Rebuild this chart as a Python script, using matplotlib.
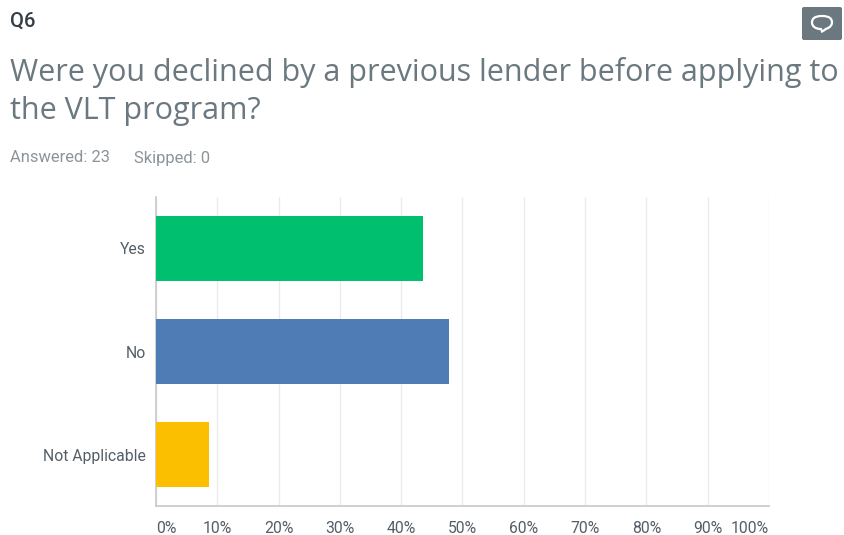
import matplotlib
matplotlib.use("Agg")
import matplotlib.pyplot as plt
from matplotlib.patches import FancyBboxPatch, PathPatch
from matplotlib.path import Path

question_id = "Q6"
title_lines = ["Were you declined by a previous lender before applying to", "the VLT program?"]
answered = "Answered: 23"
skipped = "Skipped: 0"
categories = ["Yes", "No", "Not Applicable"]
values = [43.48, 47.83, 8.70]
colors = ["#00BF6F", "#507CB6", "#FBBF00"]
ticks = [0, 10, 20, 30, 40, 50, 60, 70, 80, 90, 100]
tick_labels = [f"{t}%" for t in ticks]

W, H = 845, 535
plt.rcParams["font.family"] = ["Roboto", "DejaVu Sans"]
fig = plt.figure(figsize=(W / 100, H / 100), dpi=100, facecolor="white")

# plot area placed in pixel coordinates
left, right, top, bottom = 156, 769, 197, 506
ax = fig.add_axes([left / W, 1 - bottom / H, (right - left) / W, (bottom - top) / H])
ax.set_xlim(0, 100)
ax.set_ylim(2.5, -0.5)
ax.set_axisbelow(True)
ax.barh(range(3), values, height=0.625, color=colors, zorder=3)
ax.set_yticks(range(3), categories)
ax.set_xticks(ticks, tick_labels)
ax.xaxis.grid(True, color="#EBEBEB", linewidth=1)
ax.tick_params(axis="both", length=0, labelsize=11.3, labelcolor="#555E66")
ax.tick_params(axis="x", pad=10.8)
ax.tick_params(axis="y", pad=7.5)
# the end labels stay inside the plot width
xlabels = ax.get_xticklabels()
xlabels[0].set_ha("left")
xlabels[-1].set_ha("right")
for s in ("top", "right"):
    ax.spines[s].set_visible(False)
for s in ("left", "bottom"):
    ax.spines[s].set_color("#C8C8C8")
    ax.spines[s].set_linewidth(1.2)

# page header, positioned in pixels over the whole figure
overlay = fig.add_axes([0, 0, 1, 1], facecolor="none")
overlay.set_xlim(0, W)
overlay.set_ylim(H, 0)
overlay.axis("off")
overlay.text(10, 21, question_id, fontsize=14.5, fontweight="medium", color="#333E48", va="center")
overlay.text(10, 73, title_lines[0], fontfamily="Open Sans", fontsize=22, color="#6B787F", va="center")
overlay.text(10, 111, title_lines[1], fontfamily="Open Sans", fontsize=22, color="#6B787F", va="center")
overlay.text(10, 158, answered, fontsize=11.9, color="#8A949A", va="center")
overlay.text(134, 158, skipped, fontsize=11.9, color="#8A949A", va="center")

# comment button with a speech bubble icon
overlay.add_patch(FancyBboxPatch((802, 7), 40, 33, boxstyle="round,pad=0,rounding_size=2",
                                 facecolor="#6B787F", edgecolor="none"))
bubble = Path(
    [(822, 16), (814, 16), (812, 19), (812, 22.5),
     (812, 26), (815, 29), (821, 29),
     (822, 31.5),
     (825, 30), (826, 28.5), (827, 28.5),
     (830, 27.5), (832, 25), (832, 22.5),
     (832, 19), (830, 16), (822, 16),
     (822, 16)],
    [Path.MOVETO, Path.CURVE4, Path.CURVE4, Path.CURVE4,
     Path.CURVE4, Path.CURVE4, Path.CURVE4,
     Path.LINETO,
     Path.CURVE4, Path.CURVE4, Path.CURVE4,
     Path.CURVE4, Path.CURVE4, Path.CURVE4,
     Path.CURVE4, Path.CURVE4, Path.CURVE4,
     Path.CLOSEPOLY],
)
overlay.add_patch(PathPatch(bubble, facecolor="none", edgecolor="white", linewidth=1.6))

fig.savefig("out.png", dpi=100, facecolor="white")
